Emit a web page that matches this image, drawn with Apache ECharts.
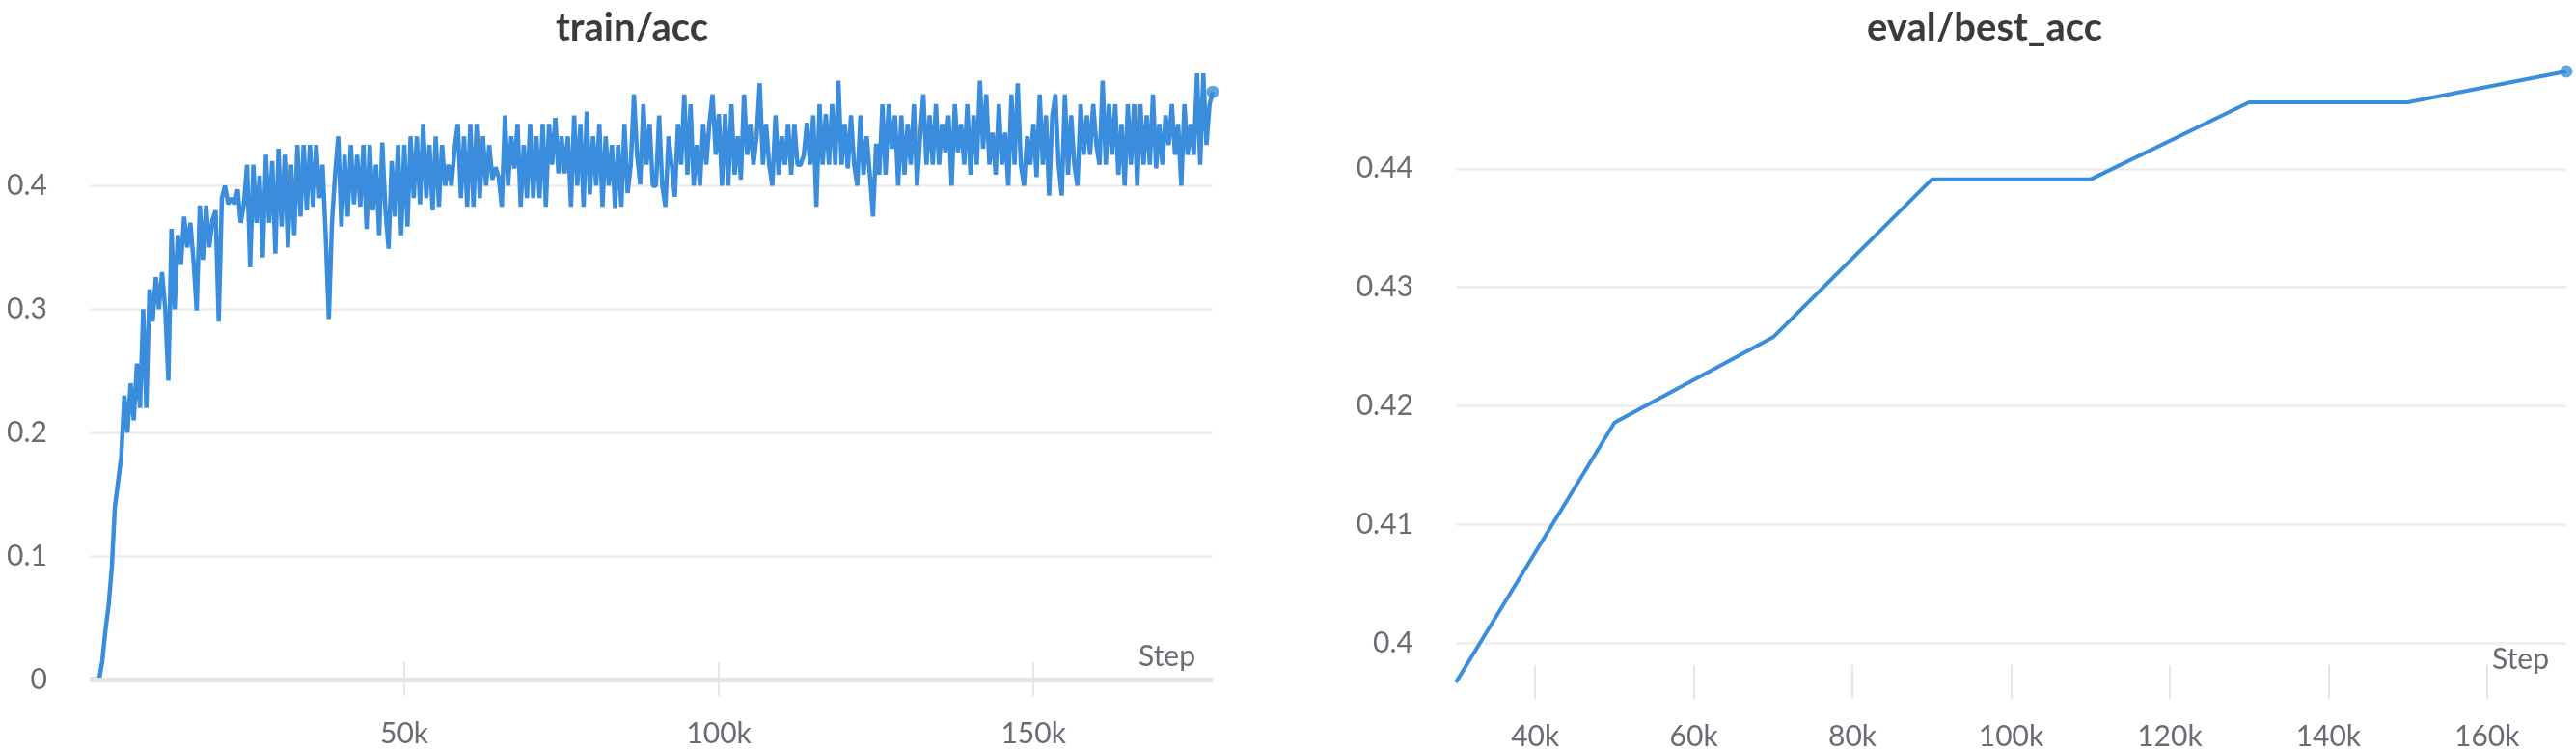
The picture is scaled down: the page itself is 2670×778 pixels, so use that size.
<!DOCTYPE html>
<html>
<head>
<meta charset="utf-8">
<script src="https://cdn.jsdelivr.net/npm/echarts@6/dist/echarts.min.js"></script>
<style>
  html, body { margin: 0; padding: 0; background: #fff; }
  #chart { width: 2670px; height: 778px; }
</style>
</head>
<body>
<div id="chart"></div>
<script>
// ---- train/acc : one value logged every 500 steps ----
const trainStepEvery = 500;
const trainAcc = [
  0, 0, 0, 0, 0.015, 0.04, 0.06, 0.09, 0.14, 0.16,
  0.18, 0.23, 0.20, 0.24, 0.21, 0.256, 0.22, 0.30, 0.22, 0.316,
  0.29, 0.326, 0.30, 0.33, 0.30, 0.242, 0.365, 0.30, 0.36, 0.336,
  0.375, 0.35, 0.37, 0.339, 0.299, 0.384, 0.34, 0.384, 0.35, 0.372,
  0.38, 0.29, 0.39, 0.40, 0.385, 0.39, 0.385, 0.397, 0.37, 0.385,
  0.417, 0.334, 0.417, 0.37, 0.408, 0.342, 0.425, 0.37, 0.42, 0.345,
  0.43, 0.367, 0.425, 0.35, 0.417, 0.36, 0.433, 0.375, 0.433, 0.38,
  0.433, 0.383, 0.433, 0.39, 0.417, 0.36, 0.292, 0.37, 0.41, 0.44,
  0.367, 0.425, 0.375, 0.433, 0.385, 0.425, 0.383, 0.433, 0.365, 0.433,
  0.38, 0.417, 0.36, 0.435, 0.38, 0.349, 0.42, 0.375, 0.433, 0.36,
  0.433, 0.367, 0.44, 0.39, 0.44, 0.385, 0.45, 0.39, 0.433, 0.38,
  0.44, 0.383, 0.433, 0.40, 0.417, 0.40, 0.43, 0.45, 0.39, 0.44,
  0.383, 0.45, 0.383, 0.45, 0.39, 0.44, 0.40, 0.433, 0.405, 0.415,
  0.407, 0.383, 0.457, 0.40, 0.44, 0.414, 0.45, 0.383, 0.433, 0.39,
  0.45, 0.39, 0.44, 0.39, 0.45, 0.383, 0.45, 0.417, 0.455, 0.41,
  0.44, 0.41, 0.44, 0.383, 0.457, 0.40, 0.45, 0.383, 0.46, 0.393,
  0.44, 0.40, 0.45, 0.383, 0.44, 0.40, 0.433, 0.382, 0.433, 0.383,
  0.45, 0.394, 0.417, 0.474, 0.425, 0.401, 0.466, 0.417, 0.45, 0.40,
  0.40, 0.457, 0.40, 0.383, 0.44, 0.417, 0.391, 0.45, 0.417, 0.474,
  0.409, 0.466, 0.40, 0.433, 0.40, 0.45, 0.417, 0.451, 0.474, 0.425,
  0.458, 0.40, 0.458, 0.40, 0.466, 0.409, 0.44, 0.405, 0.474, 0.425,
  0.45, 0.417, 0.44, 0.483, 0.417, 0.45, 0.417, 0.40, 0.457, 0.409,
  0.44, 0.417, 0.45, 0.409, 0.45, 0.417, 0.417, 0.425, 0.451, 0.417,
  0.457, 0.383, 0.466, 0.417, 0.458, 0.417, 0.466, 0.417, 0.485, 0.417,
  0.45, 0.414, 0.457, 0.417, 0.40, 0.457, 0.409, 0.44, 0.409, 0.375,
  0.434, 0.409, 0.466, 0.409, 0.466, 0.43, 0.457, 0.40, 0.457, 0.409,
  0.45, 0.417, 0.466, 0.40, 0.44, 0.474, 0.417, 0.457, 0.417, 0.466,
  0.417, 0.45, 0.427, 0.457, 0.40, 0.466, 0.427, 0.45, 0.417, 0.466,
  0.409, 0.457, 0.417, 0.485, 0.43, 0.474, 0.417, 0.443, 0.409, 0.466,
  0.417, 0.443, 0.40, 0.474, 0.417, 0.483, 0.417, 0.40, 0.44, 0.417,
  0.45, 0.407, 0.474, 0.417, 0.457, 0.392, 0.457, 0.474, 0.417, 0.392,
  0.474, 0.409, 0.457, 0.417, 0.40, 0.466, 0.425, 0.457, 0.425, 0.466,
  0.433, 0.417, 0.485, 0.417, 0.466, 0.425, 0.466, 0.409, 0.45, 0.40,
  0.466, 0.417, 0.466, 0.40, 0.466, 0.417, 0.457, 0.417, 0.474, 0.414,
  0.45, 0.417, 0.457, 0.433, 0.466, 0.425, 0.45, 0.40, 0.466, 0.425,
  0.45, 0.425, 0.491, 0.417, 0.491, 0.433, 0.466, 0.476
];
const trainXTicks = [50000, 100000, 150000];

// ---- eval/best_acc ----
const evalSteps = [30000, 50000, 70000, 90000, 110000, 130000, 150000, 170000];
const evalBestAcc = [0.3967, 0.4186, 0.4258, 0.4391, 0.4391, 0.4456, 0.4456, 0.4482];
const evalXTicks = [40000, 60000, 80000, 100000, 120000, 140000, 160000];

const BLUE = '#3a8cdc';
const LABEL = '#6b6b74';
const GRID = '#ececef';
const FONT = 'Lato, "Open Sans", sans-serif';

const trainData = trainAcc.map((v, i) => [i * trainStepEvery, v]);
const evalData = evalSteps.map((s, i) => [s, evalBestAcc[i]]);

function kFmt(v) { return (v / 1000) + 'k'; }

function xAxisFor(gridIndex, min, max, ticks) {
  return {
    type: 'value', gridIndex, min, max,
    offset: 17,
    axisLine: { show: false, onZero: false },
    axisTick: {
      show: true, inside: true, length: 35, customValues: ticks,
      lineStyle: { color: '#e6e6ea', width: 2 }
    },
    axisLabel: {
      customValues: ticks, formatter: kFmt, margin: 24,
      color: LABEL, fontSize: 30, fontFamily: FONT
    },
    splitLine: { show: false },
    name: 'Step', nameLocation: 'end', nameGap: -18,
    nameTextStyle: {
      color: LABEL, fontSize: 30, fontFamily: FONT,
      align: 'right', verticalAlign: 'bottom', padding: [0, 0, 26, 0]
    }
  };
}

function yAxisFor(gridIndex, min, max) {
  return {
    type: 'value', gridIndex, min, max, splitNumber: 5,
    axisLine: { show: false },
    axisTick: { show: false },
    axisLabel: {
      showMinLabel: min === 0, showMaxLabel: false, margin: 44,
      color: LABEL, fontSize: 30, fontFamily: FONT
    },
    splitLine: {
      show: true, showMinLine: min === 0, showMaxLine: false,
      lineStyle: { color: GRID, width: 2.5 }
    }
  };
}

const chart = echarts.init(document.getElementById('chart'));
const option = {
  backgroundColor: '#fff',
  animation: false,
  title: [
    { text: 'train/acc', left: 650, top: 4, textAlign: 'center',
      textStyle: { fontFamily: FONT, fontSize: 40, fontWeight: 'bold', color: '#3b3b3b' } },
    { text: 'eval/best_acc', left: 2052, top: 4, textAlign: 'center',
      textStyle: { fontFamily: FONT, fontSize: 40, fontWeight: 'bold', color: '#3b3b3b' } }
  ],
  grid: [
    { left: 93, top: 76, width: 1164, height: 628 },
    { left: 1509, top: 74, width: 1151, height: 633 }
  ],
  xAxis: [
    xAxisFor(0, 0, 'dataMax', trainXTicks),
    xAxisFor(1, 'dataMin', 'dataMax', evalXTicks)
  ],
  yAxis: [
    yAxisFor(0, 0, 'dataMax'),
    yAxisFor(1, 'dataMin', 'dataMax')
  ],
  series: [
    {
      name: 'train/acc', type: 'line', xAxisIndex: 0, yAxisIndex: 0,
      data: trainData, showSymbol: false, smooth: false,
      lineStyle: { color: BLUE, width: 4.5 },
      markLine: {
        silent: true, symbol: 'none', label: { show: false },
        lineStyle: { color: '#e4e4e8', width: 5, type: 'solid' },
        data: [{ yAxis: 0 }]
      },
      z: 3
    },
    {
      type: 'scatter', xAxisIndex: 0, yAxisIndex: 0,
      data: [trainData[trainData.length - 1]],
      symbolSize: 13, itemStyle: { color: BLUE }, z: 4
    },
    {
      name: 'eval/best_acc', type: 'line', xAxisIndex: 1, yAxisIndex: 1,
      data: evalData, showSymbol: false,
      lineStyle: { color: BLUE, width: 4 }, z: 3
    },
    {
      type: 'scatter', xAxisIndex: 1, yAxisIndex: 1,
      data: [evalData[evalData.length - 1]],
      symbolSize: 13, itemStyle: { color: BLUE }, z: 4
    }
  ]
};
chart.setOption(option);
window.addEventListener('resize', () => chart.resize());
</script>
</body>
</html>
